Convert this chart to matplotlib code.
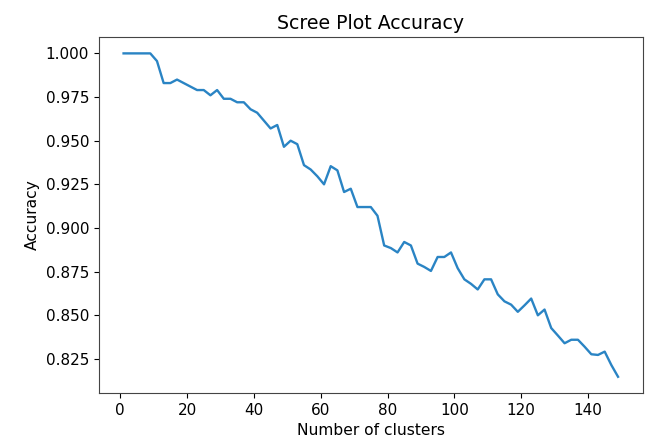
import numpy as np
import matplotlib
matplotlib.use('Agg')
import matplotlib.pyplot as plt

# number of clusters (odd values 1..149)
n_clusters = list(range(1, 150, 2))

accuracy = [
    1.000, 1.000, 1.000, 1.000, 1.000, 0.9956, 0.983, 0.983, 0.985, 0.983,
    0.981, 0.979, 0.979, 0.976, 0.979, 0.974, 0.974, 0.972, 0.972, 0.968,
    0.966, 0.9615, 0.957, 0.959, 0.9465, 0.950, 0.948, 0.936, 0.9335, 0.9296,
    0.925, 0.9354, 0.933, 0.9206, 0.9225, 0.912, 0.912, 0.912, 0.907, 0.890,
    0.8885, 0.886, 0.892, 0.890, 0.8796, 0.8777, 0.8754, 0.8834, 0.8834, 0.886,
    0.877, 0.8706, 0.868, 0.8648, 0.8706, 0.8706, 0.862, 0.858, 0.8561, 0.852,
    0.8557, 0.8596, 0.850, 0.8533, 0.8427, 0.8384, 0.834, 0.836, 0.836, 0.832,
    0.8277, 0.8273, 0.8292, 0.8215, 0.8148,
]

fig = plt.figure(figsize=(6.46, 4.43), dpi=100)
ax = fig.add_axes([0.153, 0.113, 0.842, 0.803])

ax.plot(n_clusters, accuracy, color='#2a84c4', linewidth=1.7)

ax.set_title('Scree Plot Accuracy', fontsize=13.6)
ax.set_xlabel('Number of clusters', fontsize=11.2)
ax.set_ylabel('Accuracy', fontsize=11.2)
ax.set_xticks([0, 20, 40, 60, 80, 100, 120, 140])
ax.set_yticks([0.825, 0.850, 0.875, 0.900, 0.925, 0.950, 0.975, 1.000])
ax.tick_params(labelsize=11)
for s in ax.spines.values():
    s.set_color('#444444')

fig.savefig('out.png', dpi=100)
